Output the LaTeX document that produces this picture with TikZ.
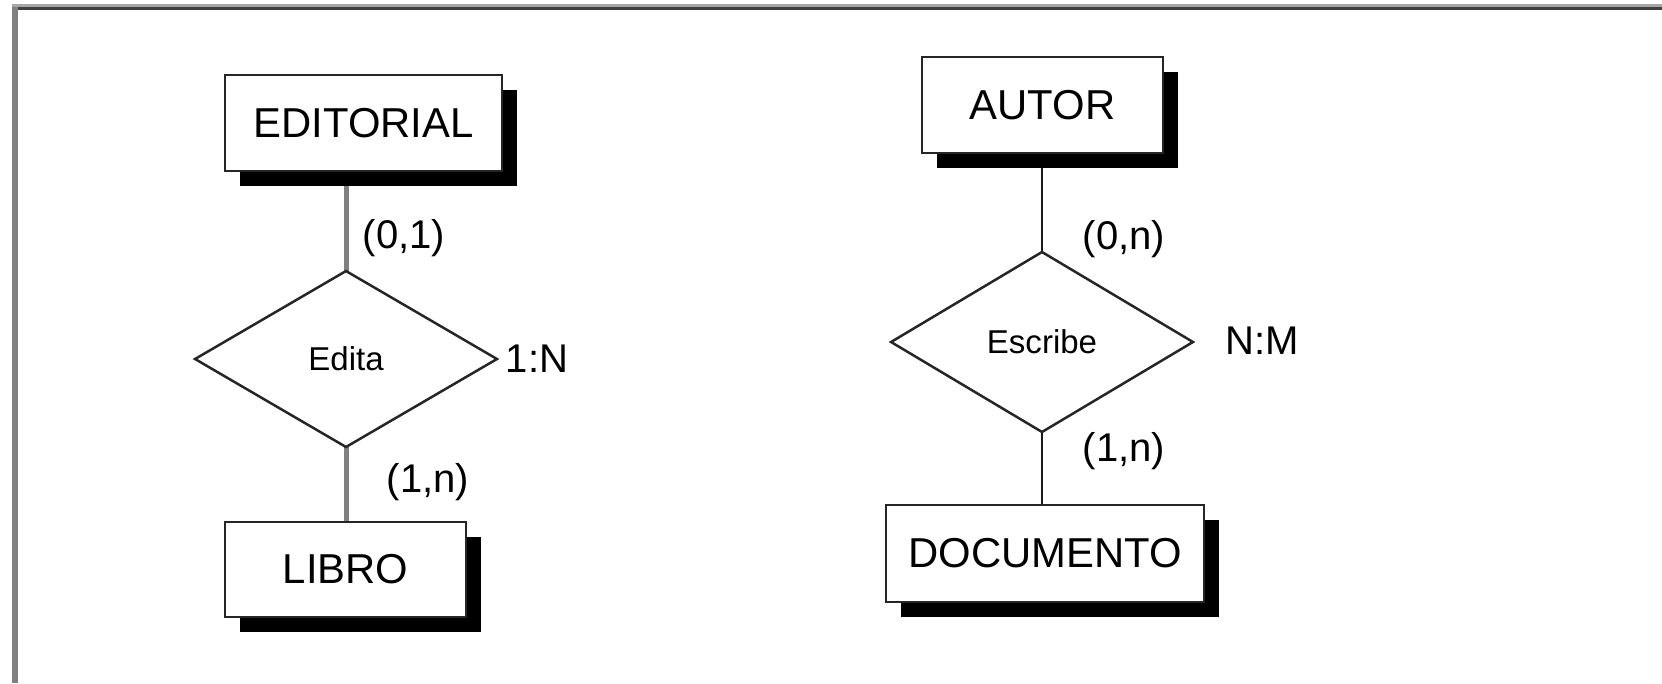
\documentclass[tikz,border=0pt]{standalone}
\usepackage{fontspec}
\setmainfont{Liberation Sans}
\usetikzlibrary{shapes.geometric,shadows,backgrounds}

\begin{document}
\begin{tikzpicture}[x=0.02cm,y=-0.02cm]
    \tikzset{
      entidad/.style={
        draw=black!85, line width=0.055cm, fill=white,
        inner sep=0pt, outer sep=0pt,
        minimum height=1.92cm,
        font=\fontsize{23.8}{28}\selectfont,
        drop shadow={shadow xshift=0.3cm, shadow yshift=-0.3cm,
                     fill=black, opacity=1},
      },
      relacion/.style={
        diamond, draw=black!85, line width=0.05cm, fill=white,
        inner sep=0pt, outer sep=0pt,
        minimum width=6.04cm,
        font=\fontsize{18.8}{22}\selectfont,
      },
      card/.style={font=\fontsize{22.8}{27}\selectfont, inner sep=0pt},
      union/.style={draw=black!50, line width=0.1cm},
      unionfina/.style={draw=black!90, line width=0.05cm},
    }
    \useasboundingbox (0,0) rectangle (1662,683);
    % marco
    \draw[black!35, line width=0.06cm] (12,5.3) -- (1662,5.3);
    \draw[black!75, line width=0.066cm] (12,8.4) -- (1662,8.4);
    \draw[black!50, line width=0.12cm] (15,7) -- (15,683);
    %
    \node[entidad, minimum width=5.54cm] (editorial) at (363.5,123) {EDITORIAL};
    \node[relacion, minimum height=3.52cm] (edita) at (346,359) {Edita};
    \node[entidad, minimum width=4.82cm, minimum height=1.9cm] (libro) at (345.5,569.5) {LIBRO};
    \node[card] (edCard) at (404,238) {(0,1)};
    \node[card] (libCard) at (428,482) {(1,n)};
    \node[card] (edTipo) at (537,359) {1:N};
    %
    \node[entidad, minimum width=4.82cm] (autor) at (1042.5,105) {AUTOR};
    \node[relacion, minimum height=3.6cm] (escribe) at (1042,342) {Escribe};
    \node[entidad, minimum width=6.36cm, minimum height=1.94cm] (documento) at (1045,553.5) {DOCUMENTO};
    \node[card] (auCard) at (1124,239) {(0,n)};
    \node[card] (docCard) at (1124,451) {(1,n)};
    \node[card] (esTipo) at (1262,341) {N:M};
    %
    \begin{scope}[on background layer]
      \draw[union] (edita.north) -- (edita.north |- editorial.south);
      \draw[union] (edita.south) -- (edita.south |- libro.north);
      \draw[unionfina] (escribe.north) -- (escribe.north |- autor.south);
      \draw[unionfina] (escribe.south) -- (escribe.south |- documento.north);
    \end{scope}
\end{tikzpicture}
\end{document}
